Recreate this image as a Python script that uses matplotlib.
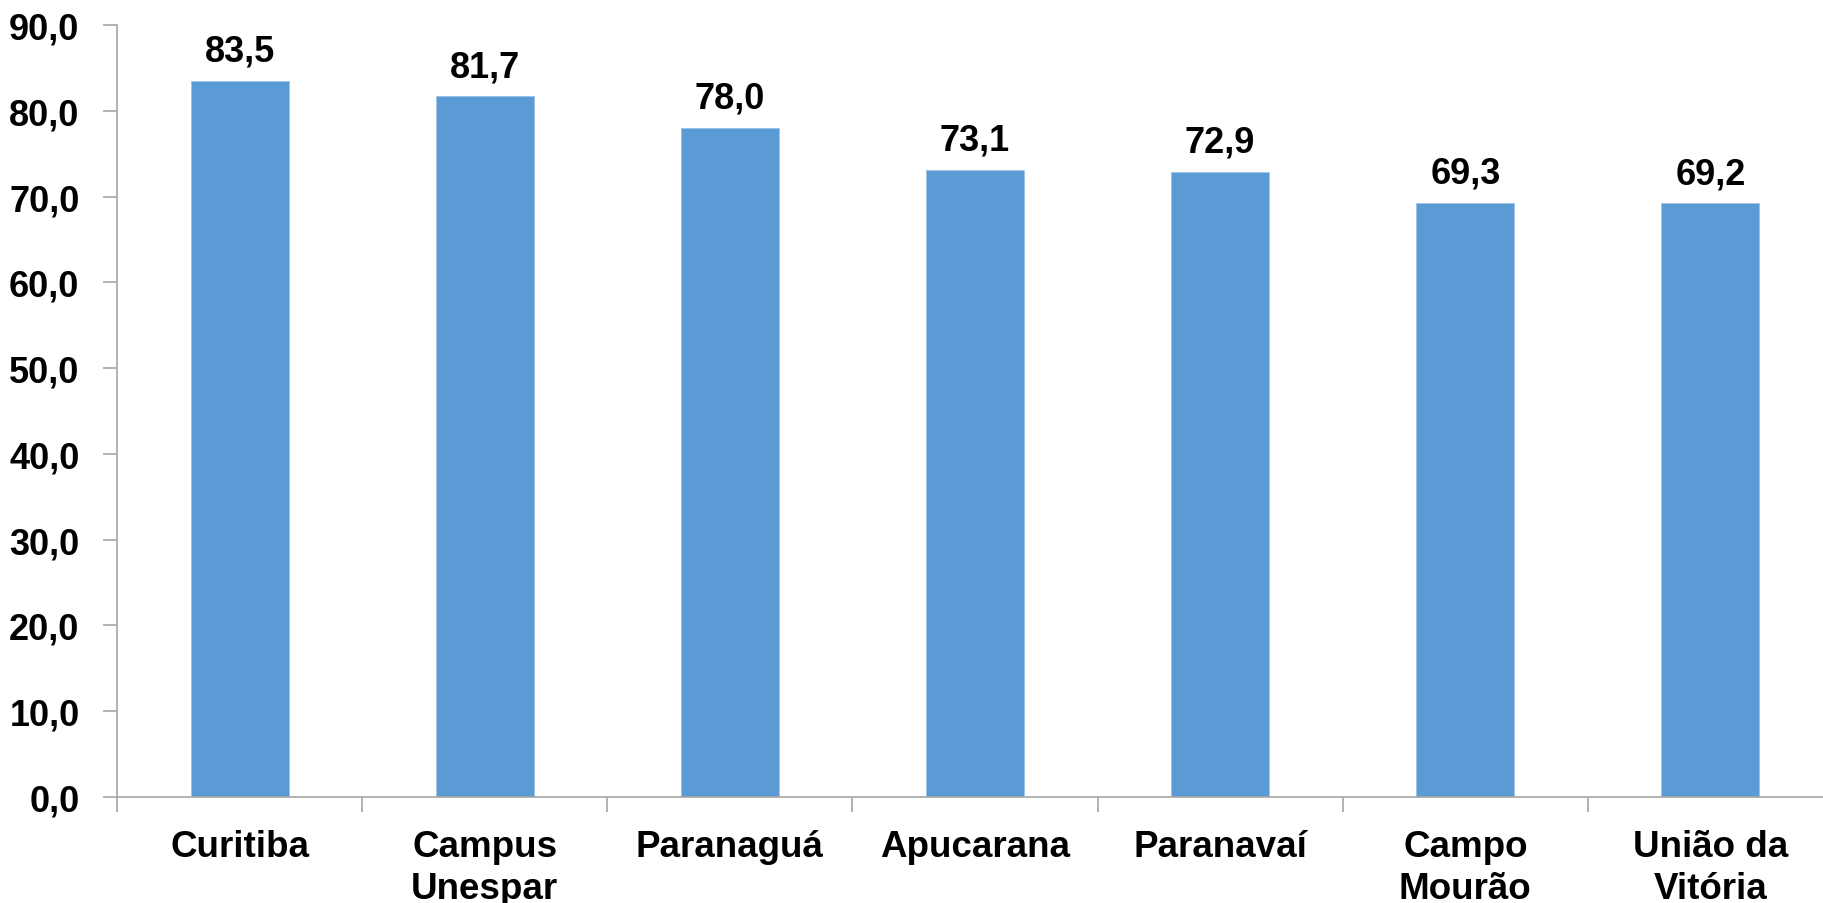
import matplotlib
matplotlib.use("Agg")
import matplotlib.pyplot as plt
import matplotlib.ticker as mtick

# dados
campi = ["Curitiba", "Campus\nUnespar", "Paranaguá", "Apucarana",
         "Paranavaí", "Campo\nMourão", "União da\nVitória"]
valores = [83.5, 81.7, 78.0, 73.1, 72.9, 69.3, 69.2]

plt.rcParams["font.family"] = ["Liberation Sans", "DejaVu Sans"]
plt.rcParams["font.weight"] = "bold"

cinza = "#A6A6A6"

fig = plt.figure(figsize=(18.23, 9.04), dpi=100)
ax = fig.add_axes([117 / 1823, 106 / 904, 1716 / 1823, 772 / 904])

x = list(range(len(campi)))
ax.bar(x, valores, width=0.4, color="#5B9BD5", edgecolor="#9DC3E6", linewidth=0.6, zorder=2)

# rótulos das barras
for xi, v in zip(x, valores):
    ax.annotate(f"{v:.1f}".replace(".", ","), (xi, v), xytext=(0, 14.5),
                textcoords="offset points", ha="center", va="baseline",
                fontsize=26, fontweight="bold")

ax.set_xlim(-0.5, len(campi) - 0.5)
ax.set_ylim(0, 90)
ax.yaxis.set_major_locator(mtick.MultipleLocator(10))
ax.yaxis.set_major_formatter(mtick.FuncFormatter(lambda v, _: f"{v:.1f}".replace(".", ",")))

# eixo x: ticks nas divisões, rótulos no centro
ax.set_xticks(x)
ax.set_xticklabels(campi, fontsize=26.5, fontweight="bold", linespacing=1.25)
ax.set_xticks([i - 0.5 for i in range(len(campi) + 1)], minor=True)
ax.tick_params(axis="x", which="major", length=0, pad=23)
ax.tick_params(axis="x", which="minor", length=11, width=1.2, color=cinza)
ax.tick_params(axis="y", length=10, width=1.2, color=cinza, pad=17, labelsize=26)
for lbl in ax.get_yticklabels():
    lbl.set_fontweight("bold")

for s in ["top", "right"]:
    ax.spines[s].set_visible(False)
for s in ["left", "bottom"]:
    ax.spines[s].set_color(cinza)
    ax.spines[s].set_linewidth(1.2)

fig.savefig("out.png", dpi=100)
plt.close(fig)
